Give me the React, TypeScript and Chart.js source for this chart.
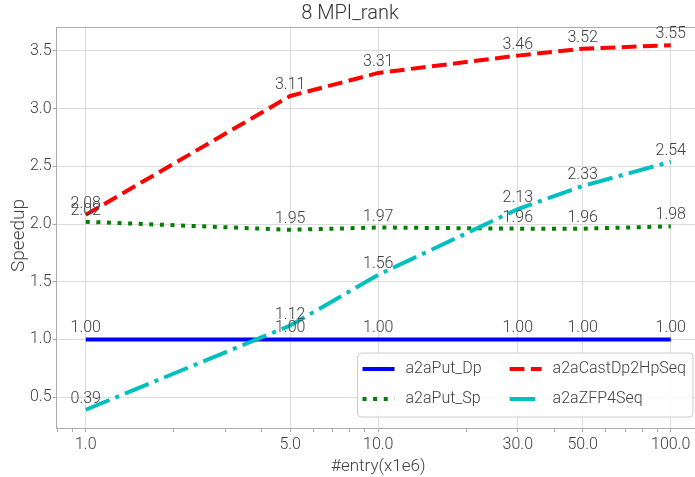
import React, { useEffect, useRef } from "react";
import { Chart, registerables } from "chart.js";

Chart.register(...registerables);

const xValues = [1, 5, 10, 30, 50, 100];
const xMajorTicks = [1, 5, 10, 30, 50, 100];
const xMinorTicks = [0.8, 0.9, 2, 3, 4, 6, 7, 8, 9, 20, 40, 60, 70, 80, 90];
const yTicks = [0.5, 1.0, 1.5, 2.0, 2.5, 3.0, 3.5];

const seriesLabels = ["a2aPut_Dp", "a2aPut_Sp", "a2aCastDp2HpSeq", "a2aZFP4Seq"];
const putDp = [1.0, 1.0, 1.0, 1.0, 1.0, 1.0];
const putSp = [2.02, 1.95, 1.97, 1.96, 1.96, 1.98];
const castDp2HpSeq = [2.08, 3.11, 3.31, 3.46, 3.52, 3.55];
const zfp4Seq = [0.39, 1.12, 1.56, 2.13, 2.33, 2.54];

const seriesValues = [putDp, putSp, castDp2HpSeq, zfp4Seq];
const seriesColors = ["#0000ff", "#008000", "#ff0000", "#00bfbf"];
const seriesDashes: number[][] = [[], [4, 6.6], [14.8, 6.4], [25.6, 6.4, 4, 6.4]];

const Y_TITLE = "Speedup";
const FONT = "Roboto";
const TEXT = "#404040";
const GRID = "#dcdcdc";
const FRAME = "#aaaaaa";

const allY = seriesValues.flat();
const yLo = Math.min(...allY);
const yHi = Math.max(...allY);
const yMargin = (yHi - yLo) * 0.05;
const lxLo = Math.log10(Math.min(...xValues));
const lxHi = Math.log10(Math.max(...xValues));
const lxMargin = (lxHi - lxLo) * 0.05;

const framePlugin = {
  id: "frameTop",
  beforeDatasetsDraw(chart: any) {
    const { ctx, chartArea } = chart;
    ctx.save();
    ctx.strokeStyle = FRAME;
    ctx.lineWidth = 1;
    ctx.beginPath();
    ctx.moveTo(chartArea.left, chartArea.top + 0.5);
    ctx.lineTo(chartArea.right, chartArea.top + 0.5);
    ctx.stroke();
    ctx.restore();
  },
};

const yTitlePlugin = {
  id: "yTitle",
  afterDraw(chart: any) {
    const { ctx, chartArea } = chart;
    ctx.save();
    ctx.font = `300 19px ${FONT}`;
    ctx.fillStyle = TEXT;
    ctx.textAlign = "center";
    ctx.textBaseline = "middle";
    ctx.translate(19, (chartArea.top + chartArea.bottom) / 2 + 8);
    ctx.rotate(-Math.PI / 2);
    ctx.fillText(Y_TITLE, 0, 0);
    ctx.restore();
  },
};

const labelPlugin = {
  id: "valueLabels",
  afterDatasetsDraw(chart: any) {
    const { ctx } = chart;
    ctx.save();
    ctx.font = `300 16px ${FONT}`;
    ctx.fillStyle = TEXT;
    ctx.textAlign = "center";
    ctx.textBaseline = "alphabetic";
    chart.data.datasets.forEach((ds: any, i: number) => {
      const meta = chart.getDatasetMeta(i);
      meta.data.forEach((el: any, j: number) => {
        const v = ds.data[j].y;
        ctx.fillText(v.toFixed(2), el.x, el.y - 7);
      });
    });
    ctx.restore();
  },
};

const legendPlugin = {
  id: "boxLegend",
  afterDraw(chart: any) {
    const { ctx, chartArea } = chart;
    const ds = chart.data.datasets;
    ctx.save();
    ctx.font = `300 16px ${FONT}`;
    const handle = 32;
    const gap = 11;
    const colGap = 28;
    const padL = 5;
    const padR = 7;
    const w = ds.map((d: any) => ctx.measureText(d.label).width);
    const w1 = Math.max(w[0], w[1]);
    const w2 = Math.max(w[2], w[3]);
    const boxW = padL + handle + gap + w1 + colGap + handle + gap + w2 + padR;
    const boxH = 64;
    const right = chartArea.right - 7;
    const bottom = chartArea.bottom - 11;
    const left = right - boxW;
    const top = bottom - boxH;
    const r = 4;
    ctx.beginPath();
    ctx.moveTo(left + r, top);
    ctx.lineTo(right - r, top);
    ctx.quadraticCurveTo(right, top, right, top + r);
    ctx.lineTo(right, bottom - r);
    ctx.quadraticCurveTo(right, bottom, right - r, bottom);
    ctx.lineTo(left + r, bottom);
    ctx.quadraticCurveTo(left, bottom, left, bottom - r);
    ctx.lineTo(left, top + r);
    ctx.quadraticCurveTo(left, top, left + r, top);
    ctx.closePath();
    ctx.fillStyle = "rgba(255,255,255,0.85)";
    ctx.fill();
    ctx.strokeStyle = "#cccccc";
    ctx.lineWidth = 1;
    ctx.stroke();

    const colX = [left + padL, left + padL + handle + gap + w1 + colGap];
    const rowY = [top + 16, top + 46];
    ds.forEach((d: any, i: number) => {
      const cx = colX[Math.floor(i / 2)];
      const cy = rowY[i % 2];
      ctx.save();
      ctx.strokeStyle = d.borderColor;
      ctx.lineWidth = d.borderWidth;
      ctx.setLineDash(d.borderDash || []);
      ctx.lineCap = "butt";
      ctx.beginPath();
      ctx.moveTo(cx, cy);
      ctx.lineTo(cx + handle, cy);
      ctx.stroke();
      ctx.restore();
      ctx.fillStyle = TEXT;
      ctx.textAlign = "left";
      ctx.textBaseline = "middle";
      ctx.fillText(d.label, cx + handle + gap, cy);
    });
    ctx.restore();
  },
};

export default function App() {
  const ref = useRef<HTMLCanvasElement | null>(null);
  useEffect(() => {
    if (!ref.current) return;
    Chart.defaults.font.family = FONT;
    Chart.defaults.font.weight = "300" as any;
    const chart = new Chart(ref.current, {
      type: "line",
      data: {
        datasets: seriesLabels.map((label, i) => ({
          label,
          data: xValues.map((x, j) => ({ x, y: seriesValues[i][j] })),
          borderColor: seriesColors[i],
          backgroundColor: seriesColors[i],
          borderWidth: 4,
          borderDash: seriesDashes[i],
          pointRadius: 0,
          tension: 0,
          fill: false,
          order: seriesLabels.length - 1 - i,
        })),
      },
      options: {
        responsive: false,
        animation: false,
        devicePixelRatio: 1,
        layout: { padding: 0 },
        plugins: {
          legend: { display: false },
          tooltip: { enabled: false },
          title: {
            display: true,
            text: "8 MPI_rank",
            color: "#333333",
            font: { size: 20, weight: "300" as any, family: FONT },
            padding: { top: 2, bottom: 1 },
          },
        },
        scales: {
          x: {
            type: "logarithmic",
            min: Math.pow(10, lxLo - lxMargin),
            max: Math.pow(10, lxHi + lxMargin),
            afterBuildTicks: (scale: any) => {
              scale.ticks = [...xMajorTicks, ...xMinorTicks]
                .filter((v) => v >= scale.min && v <= scale.max)
                .sort((a, b) => a - b)
                .map((v) => ({ value: v }));
            },
            afterFit: (scale: any) => {
              scale.height = 49;
            },
            ticks: {
              autoSkip: false,
              maxRotation: 0,
              padding: 3,
              color: TEXT,
              font: { size: 16 },
              callback: (value: any) =>
                xMajorTicks.includes(Number(value)) ? Number(value).toFixed(1) : "",
            },
            grid: {
              color: (ctx: any) =>
                ctx.tick && xMajorTicks.includes(ctx.tick.value) ? GRID : "rgba(0,0,0,0)",
              tickColor: FRAME,
              tickLength: 4,
            },
            border: { color: FRAME, width: 1 },
            title: {
              display: true,
              text: "#entry(x1e6)",
              color: TEXT,
              font: { size: 17 },
              padding: { top: 0, bottom: 0 },
            },
          },
          y: {
            type: "linear",
            min: yLo - yMargin,
            max: yHi + yMargin,
            afterBuildTicks: (scale: any) => {
              scale.ticks = yTicks.map((v) => ({ value: v }));
            },
            afterFit: (scale: any) => {
              scale.width = 56.5;
            },
            ticks: {
              padding: 1,
              color: TEXT,
              font: { size: 16 },
              callback: (value: any) => Number(value).toFixed(1),
            },
            grid: { color: GRID, tickColor: FRAME, tickLength: 4 },
            border: { color: FRAME, width: 1 },
            title: { display: false, text: Y_TITLE },
          },
        },
      },
      plugins: [framePlugin, labelPlugin, legendPlugin, yTitlePlugin],
    });
    return () => chart.destroy();
  }, []);
  return (
    <div
      style={{
        position: "absolute",
        left: 0,
        top: 0,
        width: 695,
        height: 477,
        overflow: "hidden",
        background: "#ffffff",
      }}
    >
      <canvas ref={ref} width={700} height={477} style={{ display: "block" }} />
    </div>
  );
}
